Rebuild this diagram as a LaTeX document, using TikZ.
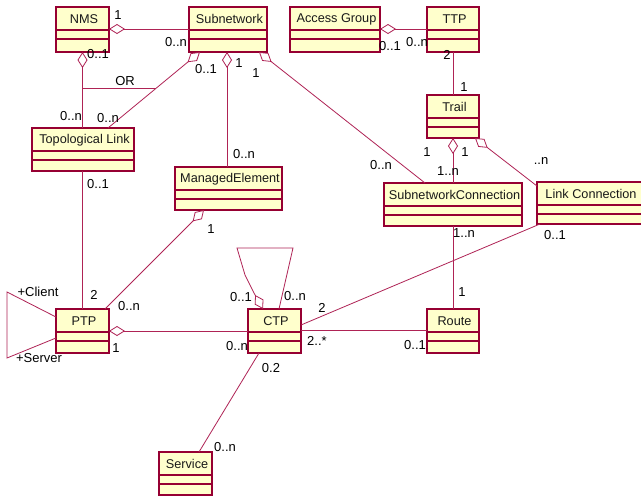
\documentclass[tikz,border=0pt]{standalone}
\usepackage{fontspec}
\setmainfont{Liberation Sans}
\usetikzlibrary{arrows.meta,calc}
\definecolor{umlred}{RGB}{150,0,50}
\definecolor{umlline}{RGB}{175,35,85}
\definecolor{umlfill}{RGB}{255,255,204}
\tikzset{
  cls/.style={draw=umlred, line width=1.4pt, fill=umlfill, rectangle, anchor=north west, inner sep=0pt, outer sep=0pt},
  compline/.style={draw=umlred, line width=1.2pt},
  clsname/.style={font=\fontsize{12.7}{14}\selectfont, text=black!90, inner sep=0pt},
  lbl/.style={font=\fontsize{13}{15}\selectfont, text=black, inner sep=0pt},
  assoc/.style={draw=umlline, line width=0.8pt},
  agg/.style={assoc, {Diamond[open,length=16pt,width=10pt]}-},
}
\newcommand{\umlbox}[6]{%
  \node[cls, minimum width=#4pt, minimum height=#5pt] (#1) at (#2,#3) {};
  \draw[compline] ($(#1.north west)+(0,23)$) -- ($(#1.north east)+(0,23)$);
  \draw[compline] ($(#1.north west)+(0,32)$) -- ($(#1.north east)+(0,32)$);
  \node[clsname] (#1-t) at ($(#1.north)+(1.5,12)$) {#6};
}
\begin{document}
\begin{tikzpicture}[x=1pt,y=-1pt]
\fill[white] (0,0) rectangle (641,498);
\useasboundingbox (0,0) rectangle (641,498);
% classes
\umlbox{nms}{56}{7}{53}{45}{NMS}
\umlbox{subnet}{189}{7}{78}{45}{Subnetwork}
\umlbox{access}{290}{7}{90}{45}{Access Group}
\umlbox{ttp}{427}{7}{52}{45}{TTP}
\umlbox{trail}{427}{95}{52}{43}{Trail}
\umlbox{topo}{32}{128}{102}{43}{Topological Link}
\umlbox{managed}{175}{167}{107}{43}{ManagedElement}
\umlbox{snc}{384}{183}{138}{43}{SubnetworkConnection}
\umlbox{linkc}{537}{182}{105}{42}{Link Connection}
\umlbox{ptp}{56}{309}{53}{44}{PTP}
\umlbox{ctp}{248}{309}{53}{44}{CTP}
\umlbox{route}{427}{309}{52}{44}{Route}
\umlbox{service}{159}{452}{53}{43}{Service}
% connectors
\draw[agg] ($(nms.north east)+(0,22)$) -- ($(subnet.north west)+(0,22)$);
\draw[agg] (nms.south) -- (nms.south |- topo.north);
\draw[agg] ($(subnet.south west)+(11,0)$) -- ($(topo.north west)+(76,0)$);
\coordinate (orL) at (82,88);
\coordinate (orR) at (156,88);
\draw[assoc] (orL) -- (orR);
\coordinate (sm) at ($(subnet.south west)+(38,0)$);
\draw[agg] (sm) -- (sm |- managed.north);
\draw[agg] ($(subnet.south east)+(-8,0)$) -- ($(snc.north west)+(41,0)$);
\draw[agg] ($(access.north east)+(0,22)$) -- ($(ttp.north west)+(0,22)$);
\draw[assoc] (ttp.south) -- (trail.north);
\draw[agg] (trail.south) -- (trail.south |- snc.north);
\draw[agg] ($(trail.south east)+(-4,0)$) -- ($(linkc.north west)+(0,4)$);
\draw[assoc] (route.north |- snc.south) -- (route.north);
\draw[assoc] ($(linkc.south west)+(3,0)$) -- ($(ctp.north east)+(0,16)$);
\draw[assoc] ($(ctp.north east)+(0,21)$) -- ($(route.north west)+(0,21)$);
\draw[agg] ($(ptp.north east)+(0,22)$) -- ($(ctp.north west)+(0,22)$);
\draw[assoc] (ptp.north |- topo.south) -- (ptp.north);
\draw[agg] ($(managed.south west)+(29,0)$) -- ($(ptp.north east)+(-4,0)$);
\draw[assoc] ($(ptp.north west)+(0,8)$) -- ($(ptp.north west)+(-49,-17)$) -- ($(ptp.north west)+(-49,49)$) -- ($(ptp.north west)+(0,29)$);
\draw[agg] ($(ctp.north west)+(15,0)$) -- ($(ctp.north west)+(6,-16)$) -- ($(ctp.north west)+(-3,-34)$) -- ($(ctp.north west)+(-11,-61)$) -- ($(ctp.north west)+(45,-61)$) -- ($(ctp.north west)+(31,0)$);
\draw[assoc] ($(ctp.south west)+(11,0)$) -- ($(service.north west)+(40,0)$);
% labels
\node[lbl] (l1) at (118,15) {1};
\node[lbl] (l2) at (176,42) {0..n};
\node[lbl] (l3) at (98,54) {0..1};
\node[lbl] (l4) at (125,81) {OR};
\node[lbl] (l5) at (71,116) {0..n};
\node[lbl] (l6) at (108,118) {0..n};
\node[lbl] (l7) at (206,69) {0..1};
\node[lbl] (l8) at (239,63) {1};
\node[lbl] (l9) at (256,73) {1};
\node[lbl] (l10) at (244,154) {0..n};
\node[lbl] (l11) at (98,184) {0..1};
\node[lbl] (l12) at (211,229) {1};
\node[lbl] (l13) at (94,295) {2};
\node[lbl] (l14) at (129,306) {0..n};
\node[lbl] (l15) at (38,292) {+Client};
\node[lbl] (l16) at (39,358) {+Server};
\node[lbl] (l17) at (116,348) {1};
\node[lbl] (l18) at (237,346) {0..n};
\node[lbl] (l19) at (241,297) {0..1};
\node[lbl] (l20) at (295,296) {0..n};
\node[lbl] (l21) at (322,308) {2};
\node[lbl] (l22) at (317,341) {2..*};
\node[lbl] (l23) at (415,345) {0..1};
\node[lbl] (l24) at (462,292) {1};
\node[lbl] (l25) at (464,233) {1..n};
\node[lbl] (l26) at (555,235) {0..1};
\node[lbl] (l27) at (381,165) {0..n};
\node[lbl] (l28) at (427,152) {1};
\node[lbl] (l29) at (465,152) {1};
\node[lbl] (l30) at (448,171) {1..n};
\node[lbl] (l31) at (541,161) {..n};
\node[lbl] (l32) at (390,46) {0..1};
\node[lbl] (l33) at (417,42) {0..n};
\node[lbl] (l34) at (447,55) {2};
\node[lbl] (l35) at (464,87) {1};
\node[lbl] (l36) at (271,368) {0.2};
\node[lbl] (l37) at (225,447) {0..n};
\end{tikzpicture}
\end{document}
